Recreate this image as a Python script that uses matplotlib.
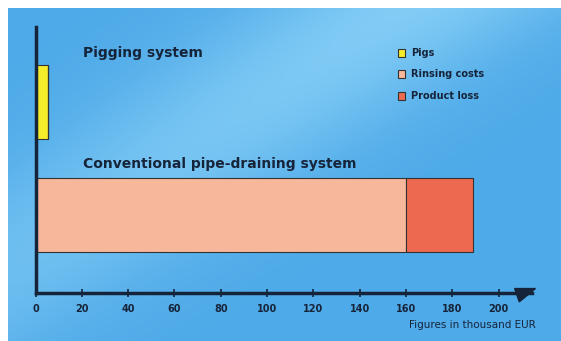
import numpy as np
import matplotlib
matplotlib.use("Agg")
from matplotlib import pyplot as plt
from matplotlib.patches import Rectangle, Polygon

# data (thousand EUR)
systems = ["Pigging system", "Conventional pipe-draining system"]
pigs = [5.5, 0]
rinsing = [0, 160]
product_loss = [0, 29]
series_names = ["Pigs", "Rinsing costs", "Product loss"]
series_colors = ["#f5ec2a", "#f6b79b", "#ec6a50"]
ticks = [0, 20, 40, 60, 80, 100, 120, 140, 160, 180, 200]
xlabel = "Figures in thousand EUR"

W, H = 561, 341
fig = plt.figure(figsize=(W / 100, H / 100), dpi=100)
fig.patch.set_facecolor("white")

# blue gradient background with a soft light streak
bg = fig.add_axes([8 / W, 0, 1 - 8 / W, 1 - 8 / H])
yy, xx = np.mgrid[0:1:200j, 0:1:300j]
d = (xx + 0.9 * yy) - 0.72
light = np.exp(-(d / 0.28) ** 2) * (1 - 0.5 * yy)
base = np.array([78, 170, 232]) / 255
hi = np.array([130, 204, 246]) / 255
img = base[None, None, :] + (hi - base)[None, None, :] * light[:, :, None]
bg.imshow(img, aspect="auto", extent=[0, 1, 0, 1], origin="upper")
bg.axis("off")

ink = "#16243a"
x0, x1 = 35.5, 532
ytop, ybot = 27, 293
ax = fig.add_axes([x0 / W, (H - ybot) / H, (x1 - x0) / W, (ybot - ytop) / H])
ax.patch.set_alpha(0)
ax.set_xlim(0, (x1 - x0) / 2.315)
ax.set_ylim(0, (ybot - ytop) / 74)

ypos = [2.58, 1.05]
ax.barh(ypos, pigs, height=1, color=series_colors[0], edgecolor="#333333", linewidth=0.8)
ax.barh(ypos, rinsing, left=pigs, height=1, color=series_colors[1], edgecolor="#333333", linewidth=0.8)
left2 = [a + b for a, b in zip(pigs, rinsing)]
ax.barh(ypos, product_loss, left=left2, height=1, color=series_colors[2], edgecolor="#333333", linewidth=0.8)

for s in ["top", "right"]:
    ax.spines[s].set_visible(False)
ax.spines["left"].set_linewidth(2.5)
ax.spines["bottom"].set_linewidth(2.5)
ax.spines["left"].set_color(ink)
ax.spines["bottom"].set_color(ink)
ax.set_yticks([])
ax.set_xticks(ticks)
ax.set_xticklabels([str(t) for t in ticks], fontsize=7, fontweight="bold", color=ink)
ax.tick_params(axis="x", direction="inout", length=6, width=1.2, color=ink, pad=5)

# arrow head at axis end
xe = ax.get_xlim()[1]
ax.add_patch(Polygon([[xe - 7.5, 0.06], [xe + 1.5, 0.06], [xe - 5.5, -0.12]],
                     closed=True, color=ink, clip_on=False))

# labels for the bars
ax.text(20.5, 3.24, systems[0], fontsize=10, fontweight="bold", color=ink, va="center")
ax.text(20.5, 1.74, systems[1], fontsize=10, fontweight="bold", color=ink, va="center")

fig.text(536 / W, 1 - 325 / H, xlabel, fontsize=7.5, color=ink, ha="right", va="center")

# legend
ly = [53, 74, 96]
for name, c, y in zip(series_names, series_colors, ly):
    fig.patches.append(Rectangle(((398) / W, 1 - (y + 4) / H), 7 / W, 8 / H,
                                 transform=fig.transFigure, facecolor=c,
                                 edgecolor="#333333", linewidth=0.8))
    fig.text(411 / W, 1 - y / H, name, fontsize=7, fontweight="bold", color=ink, va="center")

fig.savefig("out.png", dpi=100)
